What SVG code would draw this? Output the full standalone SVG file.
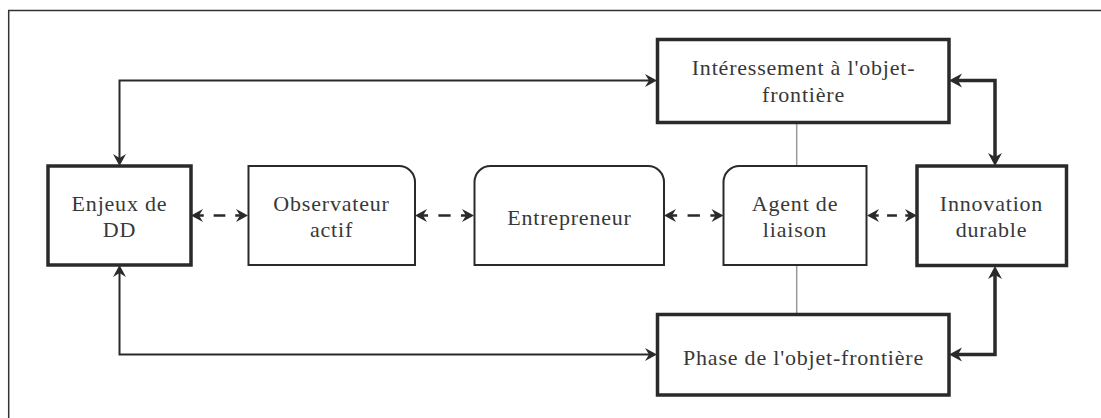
<svg xmlns="http://www.w3.org/2000/svg" width="1101" height="418" viewBox="0 0 1101 418">
  <defs>
    <style>
      .lbl { font-family: "Liberation Serif", "Times New Roman", serif; font-size: 22px; letter-spacing: 0.8px; fill: #383838; text-anchor: middle; }
      .thick { fill: #fff; stroke: #2a2a2a; stroke-width: 3.5; }
      .thin { fill: #fff; stroke: #2a2a2a; stroke-width: 2; }
      .link { fill: none; stroke: #2a2a2a; stroke-width: 2; }
      .link-bold { fill: none; stroke: #2a2a2a; stroke-width: 3.5; }
      .dash { fill: none; stroke: #2a2a2a; stroke-width: 2.5; stroke-dasharray: 15 22 26 22 15; }
      .tie { fill: none; stroke: #9a9a9a; stroke-width: 1.5; }
    </style>
    <marker id="head" viewBox="-8 -8 16 16" refX="0" refY="0" markerWidth="16" markerHeight="16" markerUnits="userSpaceOnUse" orient="auto-start-reverse">
      <path d="M6,0 L-6,-6.5 L-2,0 L-6,6.5 Z" fill="#2a2a2a"/>
    </marker>
    <marker id="head-bold" viewBox="-9 -9 18 18" refX="0" refY="0" markerWidth="18" markerHeight="18" markerUnits="userSpaceOnUse" orient="auto-start-reverse">
      <path d="M6,0 L-7,-7 L-3,0 L-7,7 Z" fill="#2a2a2a"/>
    </marker>
  </defs>

  <!-- frame edges -->
  <path d="M8.7,418 V10.5 H1101" fill="none" stroke="#333" stroke-width="1.5"/>

  <!-- connectors -->
  <g id="connectors">
    <!-- grey ties through the liaison agent -->
    <line class="tie" x1="796.7" y1="123" x2="796.7" y2="166"/>
    <line class="tie" x1="796.7" y1="265" x2="796.7" y2="314"/>

    <!-- outer loop on the left -->
    <path class="link" d="M119.5,160 V80.5 H651" marker-start="url(#head)" marker-end="url(#head)"/>
    <path class="link" d="M119.5,271 V354.5 H651" marker-start="url(#head)" marker-end="url(#head)"/>

    <!-- outer loop on the right -->
    <path class="link-bold" d="M955,80.5 H995 V160" marker-start="url(#head-bold)" marker-end="url(#head-bold)"/>
    <path class="link-bold" d="M955,354.5 H995 V272" marker-start="url(#head-bold)" marker-end="url(#head-bold)"/>

    <!-- dashed links along the chain -->
    <path class="dash" pathLength="100" d="M197,215.5 H242" marker-start="url(#head)" marker-end="url(#head)"/>
    <path class="dash" pathLength="100" d="M421,215.5 H468" marker-start="url(#head)" marker-end="url(#head)"/>
    <path class="dash" pathLength="100" d="M670,215.5 H717.5" marker-start="url(#head)" marker-end="url(#head)"/>
    <path class="dash" pathLength="100" d="M873,215.5 H911" marker-start="url(#head)" marker-end="url(#head)"/>
  </g>

  <g id="enjeux">
    <rect class="thick" x="48" y="166" width="143" height="99"/>
    <text class="lbl" x="119.5" y="210.5">Enjeux de</text>
    <text class="lbl" x="119.5" y="236.5">DD</text>
  </g>

  <g id="observateur">
    <path class="thin" d="M248.5,166 H399 A16,16 0 0 1 415,182 V265 H248.5 Z"/>
    <text class="lbl" x="331.5" y="210.5">Observateur</text>
    <text class="lbl" x="331.5" y="236.5">actif</text>
  </g>

  <g id="entrepreneur">
    <path class="thin" d="M474.5,265 V182 A16,16 0 0 1 490.5,166 H648 A16,16 0 0 1 664,182 V265 Z"/>
    <text class="lbl" x="569.5" y="224.5">Entrepreneur</text>
  </g>

  <g id="agent">
    <path class="thin" d="M723.5,265 V182 A16,16 0 0 1 739.5,166 H866.5 V265 Z"/>
    <text class="lbl" x="795" y="210.5">Agent de</text>
    <text class="lbl" x="795" y="237">liaison</text>
  </g>

  <g id="innovation">
    <rect class="thick" x="917" y="166" width="149.5" height="99.5"/>
    <text class="lbl" x="991.5" y="210.5">Innovation</text>
    <text class="lbl" x="991.5" y="236.5">durable</text>
  </g>

  <g id="interessement">
    <rect class="thick" x="657.5" y="39.5" width="291.5" height="83"/>
    <text class="lbl" x="803.5" y="75">Intéressement à l'objet-</text>
    <text class="lbl" x="803.5" y="101.5">frontière</text>
  </g>

  <g id="phase">
    <rect class="thick" x="657.5" y="314.5" width="291.5" height="80.5"/>
    <text class="lbl" x="803.5" y="365">Phase de l'objet-frontière</text>
  </g>
</svg>
